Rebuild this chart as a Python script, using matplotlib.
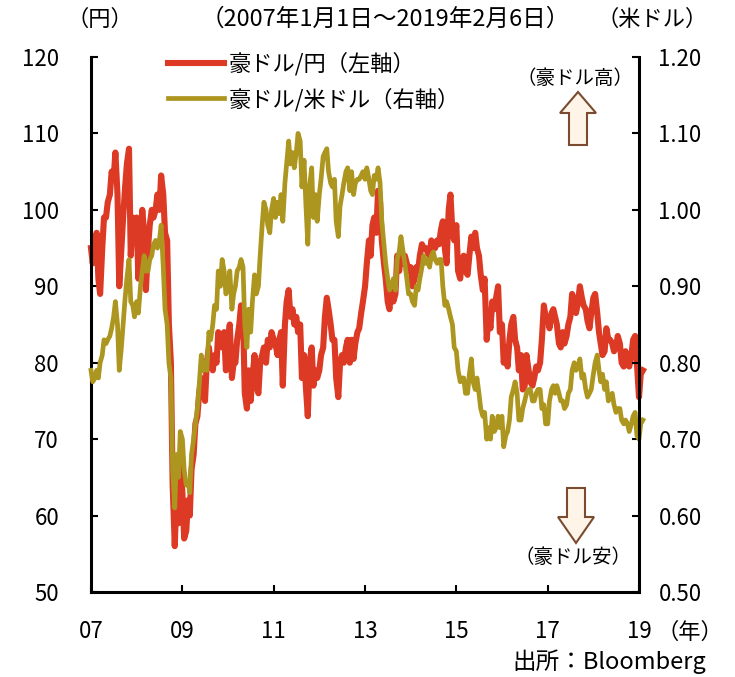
import numpy as np
import pandas as pd
import matplotlib
matplotlib.use('Agg')
import matplotlib.pyplot as plt
import matplotlib.dates as mdates
from matplotlib.patches import Polygon
from datetime import datetime

plt.rcParams['font.family'] = ['Noto Sans CJK JP', 'DejaVu Sans']

# semi-monthly readings (1st and 15th of each month), 2007-01-01 .. 2019-02-01
aud_jpy = [
    # 2007
    95, 93, 96, 97, 91, 89, 95, 99, 99, 101, 102, 105,
    104, 107.5, 102, 90, 95, 99, 103, 106, 108, 94, 99, 97,
    # 2008
    99, 91, 95, 100, 97, 89.5, 95, 98, 100, 99, 100, 102,
    100, 104.5, 102, 97, 96, 85, 80, 64, 56, 63, 59, 67,
    # 2009
    63, 57, 58, 62, 60, 66, 68, 72, 73, 76, 78, 77,
    75, 80, 82, 80, 79, 81, 80, 84, 83, 82, 84, 79,
    # 2010
    83, 85, 78, 80, 80, 83, 85, 87.5, 86, 76, 74, 79,
    75, 78, 81, 77, 76, 80, 81, 82, 80, 83, 82, 84,
    # 2011
    83, 82.5, 81, 83, 84, 77, 85, 88, 89.5, 86, 87, 85,
    86, 84, 85, 78, 81, 77, 73, 80, 82, 77, 79, 78,
    # 2012
    79, 81, 82, 86, 88.5, 87, 85, 83, 83, 78, 75.5, 80,
    81, 80, 82, 83, 80, 83, 80.5, 82.5, 84, 84.5, 86.5, 88,
    # 2013
    90, 93, 96, 94, 98, 99, 97, 102.5, 101, 96, 93, 91,
    88, 87, 90, 88, 89, 94, 92, 94.5, 93, 94, 93, 92,
    # 2014
    92.5, 90, 91, 92.5, 92, 94, 95.5, 95, 95, 94.5, 94, 96,
    95.5, 95, 96, 95.5, 97.5, 98.5, 95, 93, 100, 102, 97, 96,
    # 2015
    98, 92, 91, 93.5, 94, 92, 91.5, 94, 96.5, 95, 97, 95,
    94, 91.5, 89.5, 91, 83, 86, 84.5, 88, 87, 88.5, 90, 84,
    # 2016
    85, 80, 82, 79.5, 83, 85, 86, 83, 82, 79, 81, 76.5,
    77, 81, 79, 77.5, 77, 78, 79.5, 79, 80, 83, 87.5, 86,
    # 2017
    86, 84.5, 86.5, 87, 86, 85, 82.5, 82, 84, 82.5, 83.5, 85,
    86, 89, 88, 86.5, 88, 90, 88.5, 87.5, 87, 85.5, 84.5, 86.5,
    # 2018
    88.5, 89, 86.5, 84, 82.5, 81, 81.5, 84.5, 83, 83, 82.5, 81.5,
    82, 83.5, 82.5, 80, 79.5, 81.5, 80, 79.5, 81, 83, 83.5, 80,
    # 2019
    75.5, 78.5, 79,
]

aud_usd = [
    # 2007
    0.79, 0.775, 0.78, 0.79, 0.78, 0.80, 0.81, 0.83, 0.825, 0.83, 0.835, 0.845,
    0.86, 0.88, 0.85, 0.79, 0.82, 0.85, 0.885, 0.91, 0.935, 0.88, 0.875, 0.86,
    # 2008
    0.88, 0.865, 0.90, 0.92, 0.94, 0.92, 0.92, 0.935, 0.94, 0.955, 0.96, 0.95,
    0.96, 0.98, 0.925, 0.87, 0.85, 0.80, 0.78, 0.66, 0.61, 0.68, 0.65, 0.71,
    # 2009
    0.70, 0.66, 0.64, 0.645, 0.63, 0.68, 0.70, 0.72, 0.74, 0.77, 0.81, 0.79,
    0.80, 0.79, 0.84, 0.83, 0.85, 0.875, 0.87, 0.92, 0.90, 0.935, 0.92, 0.89,
    # 2010
    0.90, 0.92, 0.87, 0.89, 0.90, 0.92, 0.925, 0.935, 0.925, 0.85, 0.82, 0.87,
    0.84, 0.88, 0.915, 0.89, 0.90, 0.94, 0.98, 1.01, 1.00, 0.98, 0.97, 1.00,
    # 2011
    1.015, 0.99, 1.01, 0.995, 1.02, 0.985, 1.035, 1.06, 1.09, 1.06, 1.075, 1.055,
    1.075, 1.10, 1.09, 1.03, 1.065, 1.01, 0.955, 1.03, 1.055, 0.99, 1.02, 0.985,
    # 2012
    1.02, 1.04, 1.07, 1.075, 1.08, 1.05, 1.035, 1.03, 1.04, 0.985, 0.965, 1.005,
    1.02, 1.035, 1.05, 1.055, 1.025, 1.05, 1.02, 1.035, 1.04, 1.04, 1.045, 1.05,
    # 2013
    1.04, 1.055, 1.04, 1.025, 1.02, 1.045, 1.04, 1.055, 1.035, 0.985, 0.955, 0.93,
    0.91, 0.895, 0.90, 0.91, 0.895, 0.935, 0.945, 0.965, 0.945, 0.93, 0.91, 0.89,
    # 2014
    0.89, 0.88, 0.875, 0.90, 0.895, 0.91, 0.925, 0.94, 0.93, 0.935, 0.925, 0.94,
    0.945, 0.935, 0.93, 0.935, 0.935, 0.90, 0.875, 0.88, 0.87, 0.86, 0.85, 0.82,
    # 2015
    0.815, 0.79, 0.775, 0.78, 0.78, 0.76, 0.76, 0.785, 0.805, 0.775, 0.765, 0.78,
    0.76, 0.74, 0.73, 0.735, 0.70, 0.715, 0.70, 0.73, 0.71, 0.715, 0.73, 0.715,
    # 2016
    0.73, 0.69, 0.705, 0.71, 0.725, 0.755, 0.765, 0.775, 0.76, 0.725, 0.725, 0.74,
    0.75, 0.76, 0.765, 0.765, 0.75, 0.75, 0.76, 0.765, 0.765, 0.74, 0.745, 0.72,
    # 2017
    0.72, 0.75, 0.765, 0.77, 0.76, 0.77, 0.76, 0.75, 0.75, 0.74, 0.745, 0.76,
    0.765, 0.79, 0.80, 0.79, 0.795, 0.805, 0.78, 0.785, 0.765, 0.755, 0.76, 0.765,
    # 2018
    0.785, 0.80, 0.81, 0.79, 0.775, 0.785, 0.765, 0.775, 0.75, 0.755, 0.76, 0.745,
    0.735, 0.74, 0.74, 0.725, 0.72, 0.725, 0.72, 0.71, 0.72, 0.73, 0.735, 0.705,
    # 2019
    0.70, 0.72, 0.725,
]

year_ticks = [2007, 2009, 2011, 2013, 2015, 2017, 2019]
year_labels = ['07', '09', '11', '13', '15', '17', '19']
left_ticks = [50, 60, 70, 80, 90, 100, 110, 120]
right_ticks = [0.50, 0.60, 0.70, 0.80, 0.90, 1.00, 1.10, 1.20]

dates = pd.date_range('2007-01-01', periods=len(aud_jpy), freq='SMS')

RED = '#DC3A24'
OLIVE = '#AC961F'
BROWN = '#7A4B2E'
CREAM = '#FEF4E8'
FS = 16

W, H = 735, 677
fig = plt.figure(figsize=(W / 100, H / 100), dpi=100)
ax = fig.add_axes([91 / W, 1 - 592 / H, (639 - 91) / W, (592 - 57) / H])
ax2 = ax.twinx()

l1, = ax.plot(dates, aud_jpy, color=RED, lw=4.4, clip_on=False,
              label='豪ドル/円（左軸）')
l2, = ax2.plot(dates, aud_usd, color=OLIVE, lw=3.4, clip_on=False,
               label='豪ドル/米ドル（右軸）')

ax.set_xlim(datetime(2007, 1, 1), datetime(2019, 1, 1))
ax.set_ylim(50, 120)
ax2.set_ylim(0.5, 1.2)

ax.set_xticks([datetime(y, 1, 1) for y in year_ticks])
ax.set_xticklabels(year_labels)
ax.set_yticks(left_ticks)
ax.set_yticklabels([str(v) for v in left_ticks])
ax2.set_yticks(right_ticks)
ax2.set_yticklabels([f'{v:.2f}' for v in right_ticks])

for a in (ax, ax2):
    a.spines['top'].set_visible(False)
    for s in a.spines.values():
        s.set_linewidth(2.2)
        s.set_color('black')
ax.spines['right'].set_visible(False)
ax2.spines['left'].set_visible(False)
ax2.spines['bottom'].set_visible(False)

ax.tick_params(axis='y', direction='in', length=5, width=1.5, pad=23, labelsize=FS)
ax.tick_params(axis='x', direction='in', length=5, width=1.5, pad=20, labelsize=FS)
ax2.tick_params(axis='y', direction='in', length=5, width=1.5, pad=14, labelsize=FS)

leg = ax2.legend(handles=[l1, l2], loc='upper left', bbox_to_anchor=(168 / W, 1 - 52 / H),
                 bbox_transform=fig.transFigure, frameon=False, fontsize=FS,
                 handlelength=2.5, handletextpad=0.25, labelspacing=0.55,
                 borderpad=0, borderaxespad=0)

# header texts
fig.text(100 / W, 1 - 19 / H, '（円）', fontsize=FS, ha='center', va='center')
fig.text(385 / W, 1 - 19 / H, '（2007年1月1日～2019年2月6日）', fontsize=17, ha='center', va='center')
fig.text(652 / W, 1 - 19 / H, '（米ドル）', fontsize=FS, ha='center', va='center')
fig.text(690 / W, 1 - 632 / H, '（年）', fontsize=FS, ha='center', va='center')
fig.text(706 / W, 1 - 662 / H, '出所：Bloomberg', fontsize=17, ha='right', va='center')

# annotation arrows
def block_arrow(cx, y_tip, y_base, y_end):
    hw, sw = 18, 9
    pts = [(cx, y_tip), (cx + hw, y_base), (cx + sw, y_base), (cx + sw, y_end),
           (cx - sw, y_end), (cx - sw, y_base), (cx - hw, y_base)]
    pts = [(x / W, 1 - y / H) for x, y in pts]
    fig.patches.append(Polygon(pts, closed=True, transform=fig.transFigure,
                               facecolor=CREAM, edgecolor=BROWN, lw=1.5, figure=fig))

block_arrow(578, 92, 113, 145)
block_arrow(576, 543, 517, 488)
fig.text(575 / W, 1 - 78 / H, '（豪ドル高）', fontsize=14, ha='center', va='center')
fig.text(573 / W, 1 - 557 / H, '（豪ドル安）', fontsize=14, ha='center', va='center')

fig.savefig('out.png', dpi=100)
